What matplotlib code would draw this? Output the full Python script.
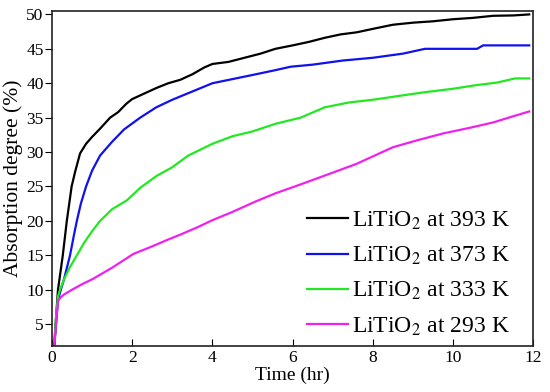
import matplotlib
matplotlib.use("Agg")
import matplotlib.pyplot as plt

plt.rcParams["font.family"] = ["Liberation Serif", "DejaVu Serif"]
plt.rcParams["mathtext.fontset"] = "stix"

# 393 K
t_393 = [0.06, 0.09, 0.12, 0.15, 0.21, 0.27, 0.32, 0.37, 0.43, 0.49, 0.58, 0.7, 0.85, 1.0, 1.2,
         1.45, 1.65, 1.85, 2.0, 2.3, 2.6, 2.9, 3.2, 3.5, 3.8, 4.0, 4.4, 4.8, 5.2, 5.57, 6.0, 6.4,
         6.8, 7.2, 7.6, 8.0, 8.5, 9.0, 9.5, 10.0, 10.5, 11.0, 11.5, 11.9]
v_393 = [2.0, 5.0, 7.5, 10.0, 12.5, 15.0, 17.5, 20.0, 22.5, 25.0, 27.2, 29.8, 31.2, 32.2, 33.4,
         35.0, 35.8, 37.0, 37.7, 38.5, 39.3, 40.0, 40.5, 41.3, 42.3, 42.8, 43.1, 43.7, 44.3, 45.0,
         45.5, 46.0, 46.6, 47.1, 47.4, 47.9, 48.5, 48.8, 49.0, 49.3, 49.5, 49.8, 49.85, 50.0]

# 373 K
t_373 = [0.06, 0.1, 0.15, 0.22, 0.3, 0.45, 0.55, 0.62, 0.72, 0.85, 1.0, 1.2, 1.5, 1.8, 2.2, 2.6,
         3.0, 3.5, 4.0, 4.5, 5.0, 5.57, 5.95, 6.5, 7.25, 8.0, 8.75, 9.3, 10.0, 10.6, 10.75, 11.9]
v_373 = [2.0, 5.0, 8.5, 10.0, 11.5, 15.0, 18.0, 20.0, 22.5, 25.0, 27.3, 29.5, 31.5, 33.3, 35.0,
         36.5, 37.6, 38.8, 40.0, 40.6, 41.2, 41.9, 42.4, 42.7, 43.3, 43.7, 44.3, 45.0, 45.0, 45.0,
         45.5, 45.5]

# 333 K
t_333 = [0.06, 0.1, 0.15, 0.2, 0.3, 0.45, 0.62, 0.8, 1.0, 1.2, 1.5, 1.87, 2.2, 2.6, 3.0, 3.4,
         4.0, 4.5, 5.0, 5.57, 6.2, 6.8, 7.4, 8.0, 8.7, 9.3, 10.0, 10.55, 11.1, 11.55, 11.9]
v_333 = [2.5, 6.0, 9.0, 10.0, 11.5, 13.3, 15.0, 16.8, 18.5, 20.0, 21.7, 23.0, 24.8, 26.5, 27.8,
         29.5, 31.2, 32.3, 33.0, 34.1, 35.0, 36.5, 37.2, 37.6, 38.2, 38.7, 39.2, 39.7, 40.1, 40.7,
         40.7]

# 293 K
t_293 = [0.06, 0.1, 0.15, 0.2, 0.3, 0.5, 0.75, 1.0, 1.5, 2.03, 2.5, 2.86, 3.2, 3.6, 4.0, 4.5,
         5.07, 5.57, 6.2, 6.95, 7.6, 8.5, 9.1, 9.75, 10.4, 11.0, 11.5, 11.9]
v_293 = [2.0, 5.0, 8.3, 8.8, 9.3, 10.0, 10.8, 11.5, 13.2, 15.2, 16.3, 17.2, 18.0, 19.0, 20.1,
         21.3, 22.8, 24.0, 25.3, 26.9, 28.3, 30.7, 31.7, 32.7, 33.5, 34.3, 35.2, 35.9]

labels = ["LiTiO$_2$ at 393 K", "LiTiO$_2$ at 373 K", "LiTiO$_2$ at 333 K", "LiTiO$_2$ at 293 K"]
colors = ["#000000", "#1010f0", "#22e822", "#f020f0"]
x_ticks = [0, 2, 4, 6, 8, 10, 12]
y_ticks = [5, 10, 15, 20, 25, 30, 35, 40, 45, 50]

fig = plt.figure(figsize=(5.5, 3.92), dpi=100)
ax = fig.add_axes([0.0945, 0.117, 0.875, 0.855])

series = [(t_393, v_393), (t_373, v_373), (t_333, v_333), (t_293, v_293)]
for (t, v), lab, c in zip(series, labels, colors):
    ax.plot(t, v, color=c, lw=1.6, label=lab)

ax.set_xlim(0, 12)
ax.set_ylim(1.8, 50.5)
ax.set_xticks(x_ticks)
ax.set_yticks(y_ticks)
ax.tick_params(axis="x", direction="in", length=5, labelsize=12.5, pad=3)
ax.tick_params(axis="y", direction="out", length=5, labelsize=12.5, pad=1)
for s in ax.spines.values():
    s.set_linewidth(1.2)
    s.set_color("#222222")

ax.set_xlabel("Time (hr)", fontsize=14, labelpad=0)
ax.set_ylabel("Absorption degree (%)", fontsize=15.5, labelpad=2)

ax.legend(loc="lower right", frameon=False, fontsize=17, handlelength=1.75,
          handletextpad=0.15, labelspacing=0.55, borderaxespad=0.1,
          bbox_to_anchor=(0.975, -0.01))

fig.savefig("out.png", dpi=100)
